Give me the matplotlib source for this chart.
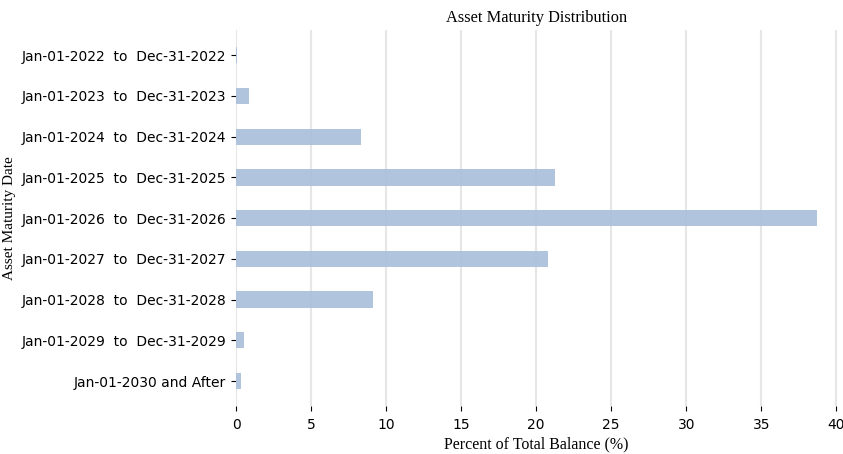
import matplotlib
matplotlib.use("Agg")
import matplotlib.pyplot as plt

categories = [
    "Jan-01-2022  to  Dec-31-2022",
    "Jan-01-2023  to  Dec-31-2023",
    "Jan-01-2024  to  Dec-31-2024",
    "Jan-01-2025  to  Dec-31-2025",
    "Jan-01-2026  to  Dec-31-2026",
    "Jan-01-2027  to  Dec-31-2027",
    "Jan-01-2028  to  Dec-31-2028",
    "Jan-01-2029  to  Dec-31-2029",
    "Jan-01-2030 and After",
]
values = [0.05, 0.86, 8.35, 21.28, 38.7, 20.8, 9.12, 0.53, 0.35]
xticks = [0, 5, 10, 15, 20, 25, 30, 35, 40]

fig = plt.figure(figsize=(8.43, 4.54), dpi=100)
ax = fig.add_axes([0.28, 0.105, 0.713, 0.829])

pos = list(range(len(categories)))[::-1]
ax.barh(pos, values, height=0.4, color="#a9bedb", alpha=0.9, zorder=2)
ax.set_yticks(pos)
ax.set_yticklabels(categories, fontsize=10)
ax.set_xticks(xticks)
ax.set_xticklabels([str(t) for t in xticks], fontsize=10)
ax.tick_params(axis="x", pad=5)
ax.set_xlim(0, 40.05)
ax.grid(axis="x", color="#e6e6e6", linewidth=1.5, zorder=0)
ax.set_axisbelow(True)
for s in ax.spines.values():
    s.set_visible(False)

serif = "Liberation Serif"
ax.set_title("Asset Maturity Distribution", fontsize=11.8, family=serif, pad=6)
ax.set_xlabel("Percent of Total Balance (%)", fontsize=11.5, family=serif, labelpad=3)
ax.set_ylabel("Asset Maturity Date", fontsize=11, family=serif, labelpad=4)

fig.savefig("out.png", dpi=100)
